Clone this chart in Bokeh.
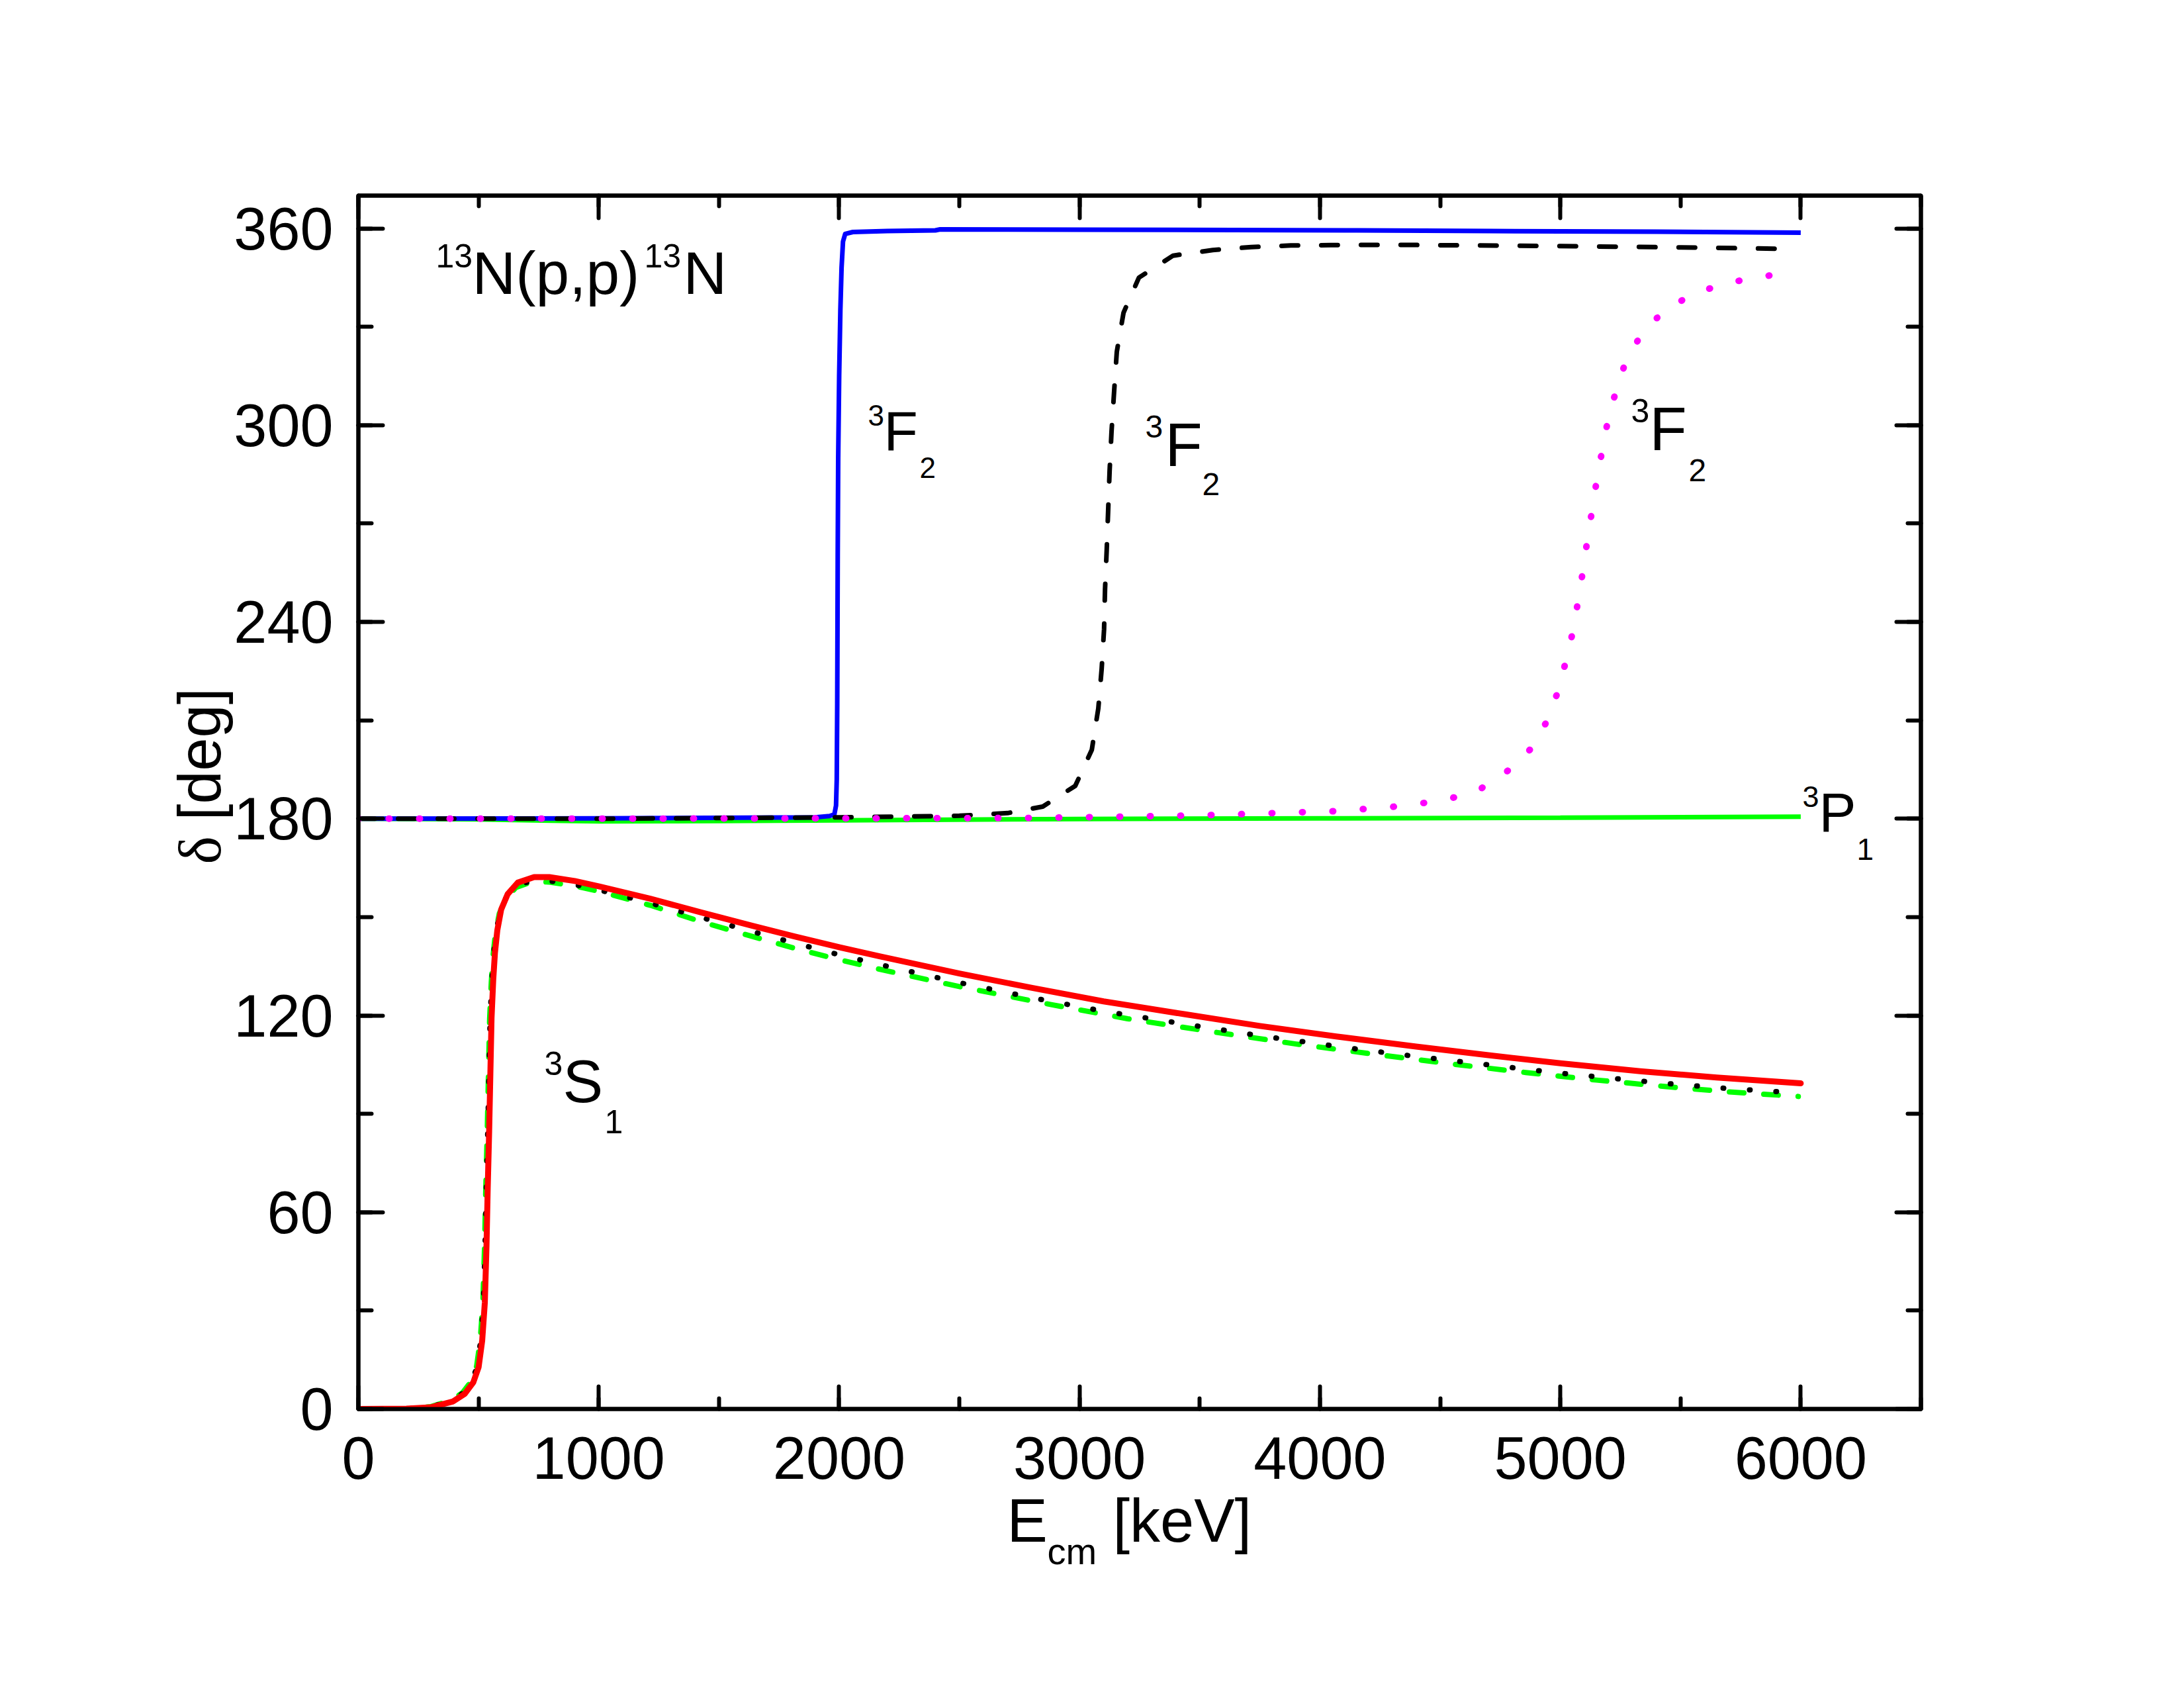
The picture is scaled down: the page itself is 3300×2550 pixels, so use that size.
import math
from bokeh.plotting import figure
from bokeh.models import (Range1d, LinearAxis, SingleIntervalTicker, Label,
                          CustomJSTickFormatter)
from bokeh.embed import file_html
from bokeh.resources import INLINE

# ---------------- data ----------------
# 3F2 solid blue
E_F2_blue = [0, 1000, 1900, 1960, 1980, 1987, 1990, 1992, 1994, 1996, 2000, 2005, 2010,
             2016, 2025, 2057, 2200, 2400, 2420, 3000, 4155, 4705, 5400, 6000]
D_F2_blue = [180, 180.1, 180.4, 180.8, 181.3, 184, 192, 215, 260, 290, 315, 335, 348,
             356, 358.3, 358.9, 359.2, 359.4, 359.7, 359.6, 359.4, 359.2, 359.0, 358.7]

# 3F2 dashed black
E_F2_dash = [0, 1000, 2000, 2500, 2700, 2847, 2982, 3051, 3078, 3092, 3102, 3106, 3113,
             3119, 3125, 3133, 3144, 3155, 3183, 3247, 3389, 3554, 3714, 3879, 4045,
             4300, 5000, 5500, 5910]
D_F2_dash = [180, 180, 180.4, 180.9, 181.7, 183.7, 190, 201, 213.6, 225.7, 237.8, 250, 262,
             274, 286, 298, 310.5, 322.4, 334.3, 345, 351.7, 353.4, 354.3, 354.8, 354.9,
             355.0, 354.6, 354.2, 353.8]

# 3F2 dotted magenta
E_F2_dot = [0, 1000, 2000, 2791, 3500, 4065, 4300, 4500, 4650, 4783, 4873, 4945, 4991,
            5023, 5052, 5073, 5094, 5112, 5132, 5151, 5174, 5198, 5231, 5270, 5331, 5421,
            5540, 5666, 5793, 5950]
D_F2_dot = [180, 180, 180.1, 180.2, 181, 182.3, 183.6, 185.4, 188.2, 194.7, 201, 209.8, 219,
            228, 237, 246, 255.6, 264.8, 274, 283, 292.3, 301.5, 310.3, 319, 327, 334.2,
            339.6, 342.8, 344.8, 346.5]

# 3P1 solid green
E_P1 = [0, 500, 800, 1000, 1500, 2000, 3000, 4000, 5000, 6000]
D_P1 = [180, 179.8, 179.4, 179.2, 179.3, 179.5, 179.9, 180.1, 180.3, 180.6]

# 3S1 solid red
E_S1_red = [0, 200, 300, 394, 442, 478, 500, 515, 526, 533, 538, 544, 549, 554, 561, 568,
            578, 594, 621, 663, 731, 794, 900, 1005, 1214, 1426, 1637, 1814, 2000, 2171,
            2500, 2803, 3100, 3435, 3750, 4068, 4400, 4700, 5000, 5332, 5650, 6000]
D_S1_red = [0, 0.1, 0.5, 2.3, 4.6, 8.1, 12.7, 20.8, 32.4, 49.8, 67.2, 84.6, 102, 119.3,
            130.9, 139, 146, 152.3, 157, 160.5, 162.2, 162.2, 161, 159.3, 155.6, 151.4,
            147.4, 144.1, 140.8, 138.0, 132.8, 128.4, 124.3, 120.4, 116.8, 113.6, 110.5,
            107.9, 105.4, 103.0, 101.1, 99.3]

# 3S1 dotted black
E_S1_dot = [0, 200, 300, 388, 436, 472, 494, 509, 520, 527, 532, 538, 543, 548, 555, 562,
            572, 588, 615, 657, 725, 790, 900, 1005, 1214, 1426, 1637, 1814, 2000, 2171,
            2500, 2845, 3100, 3515, 3750, 4160, 4400, 4834, 5000, 5419, 5700, 6000]
D_S1_dot = [0, 0.1, 0.6, 2.5, 4.9, 8.4, 13.0, 21.0, 32.5, 50.0, 67.3, 84.6, 102.0, 119.0,
            130.4, 138.3, 145.2, 151.3, 156.0, 159.5, 161.2, 161.1, 159.9, 158.2, 154.3,
            149.9, 145.6, 142.1, 138.5, 135.5, 130.0, 124.8, 121.3, 116.5, 113.8, 109.7,
            107.5, 103.8, 102.4, 99.4, 97.7, 96.3]

# 3S1 dashed green
E_S1_gd = [0, 200, 300, 386, 434, 470, 492, 507, 518, 525, 530, 536, 541, 546, 553, 560,
           570, 586, 613, 655, 723, 790, 900, 1005, 1214, 1426, 1570, 1814, 2000, 2186,
           2500, 2882, 3200, 3545, 3900, 4256, 4550, 4856, 5150, 5457, 5700, 5990]
D_S1_gd = [0, 0.1, 0.7, 2.6, 5.0, 8.5, 13.1, 21.1, 32.6, 50.0, 67.3, 84.6, 102.0, 119.0,
           130.3, 138.1, 145.0, 151.0, 155.6, 159.0, 160.8, 160.7, 159.5, 157.8, 153.6,
           148.6, 145.5, 140.5, 137.0, 133.8, 128.8, 123.3, 119.0, 115.1, 111.3, 107.9,
           105.2, 102.6, 100.3, 98.2, 96.7, 95.3]

X_TICK_INTERVAL = 1000
Y_TICK_INTERVAL = 60

# ---------------- geometry ----------------
X0, X1 = 0, 6500
Y0, Y1 = 0, 370
FRAME_L, FRAME_T = 541, 295          # picture pixels
FRAME_W, FRAME_H = 2361, 1833
SX = FRAME_W / (X1 - X0)
SY = FRAME_H / (Y1 - Y0)
FRAME_B = FRAME_T + FRAME_H

FONT = "Liberation Sans"

p = figure(frame_width=FRAME_W, frame_height=FRAME_H,
           x_range=Range1d(X0, X1), y_range=Range1d(Y0, Y1),
           x_axis_type=None, y_axis_type=None,
           output_backend="svg", toolbar_location=None,
           min_border_left=FRAME_L, min_border_top=FRAME_T,
           min_border_right=3300 - FRAME_L - FRAME_W,
           min_border_bottom=2550 - FRAME_T - FRAME_H)
p.xgrid.visible = False
p.ygrid.visible = False
p.background_fill_color = "white"
p.border_fill_color = "white"
p.outline_line_color = "black"
p.outline_line_width = 6


def style_axis(ax, maj, mnr, labels=True):
    ax.axis_line_width = 6
    ax.axis_line_color = "black"
    ax.major_tick_in = maj
    ax.major_tick_out = 0
    ax.minor_tick_in = mnr
    ax.minor_tick_out = 0
    ax.major_tick_line_width = 6
    ax.minor_tick_line_width = 6
    ax.major_tick_line_cap = "round"
    ax.minor_tick_line_cap = "round"
    ax.major_label_text_font = FONT
    ax.major_label_text_font_size = "90px"
    ax.major_label_text_color = "black"
    if not labels:
        ax.formatter = CustomJSTickFormatter(code="return ''")
        ax.major_label_text_font_size = "1px"
        ax.major_label_standoff = 0


xb = LinearAxis(ticker=SingleIntervalTicker(interval=X_TICK_INTERVAL, num_minor_ticks=2))
style_axis(xb, 34, 16)
xb.major_label_standoff = 42
p.add_layout(xb, "below")

xt = LinearAxis(ticker=SingleIntervalTicker(interval=X_TICK_INTERVAL, num_minor_ticks=2))
style_axis(xt, 34, 16, labels=False)
p.add_layout(xt, "above")

yl = LinearAxis(ticker=SingleIntervalTicker(interval=Y_TICK_INTERVAL, num_minor_ticks=2))
style_axis(yl, 37, 20)
yl.major_label_standoff = 38
p.add_layout(yl, "left")

yr = LinearAxis(ticker=SingleIntervalTicker(interval=Y_TICK_INTERVAL, num_minor_ticks=2))
style_axis(yr, 37, 20, labels=False)
p.add_layout(yr, "right")

# ---------------- curves ----------------
p.line(E_P1, D_P1, line_color="#00FF00", line_width=7)
p.line(E_F2_blue, D_F2_blue, line_color="#0000FF", line_width=7, line_join="round")
p.line(E_F2_dash, D_F2_dash, line_color="black", line_width=7, line_dash="25 35",
       line_cap="round", line_join="round")
p.line(E_F2_dot, D_F2_dot, line_color="#FF00FF", line_width=10, line_dash="1 45",
       line_cap="round", line_join="round")

p.line(E_S1_gd, D_S1_gd, line_color="#00FF00", line_width=8, line_dash="22 30",
       line_cap="round", line_join="round")
p.line(E_S1_dot, D_S1_dot, line_color="black", line_width=8, line_dash="1 39",
       line_cap="round", line_join="round")
p.line(E_S1_red, D_S1_red, line_color="#FF0000", line_width=9, line_join="round",
       line_cap="round")


# ---------------- texts ----------------
def lab(text, X, Y, size, font=FONT, angle=0.0, panel=None, desc=0.212):
    """X: left edge of text origin, Y: baseline (picture pixels)."""
    if angle == 0.0:
        ax_, ay_ = X, Y + desc * size
    else:
        ax_, ay_ = X + desc * size, Y
    lbl = Label(x=X0 + (ax_ - FRAME_L) / SX, y=Y0 + (FRAME_B - ay_) / SY,
                text=text, text_font=font, text_font_size=f"{size}px",
                text_color="black", text_align="left",
                text_baseline="bottom", angle=angle)
    if panel is None:
        p.add_layout(lbl)
    else:
        p.add_layout(lbl, panel)


# reaction label
lab("13", 658, 393, 50)
lab("N(p,p)", 713, 443, 91)
lab("13", 973, 393, 50)
lab("N", 1032, 443, 91)

# 3F2 labels
lab("3", 1311, 633, 44)
lab("F", 1335, 680, 84)
lab("2", 1389, 712, 44)

lab("3", 1730, 650, 48)
lab("F", 1760, 703, 92)
lab("2", 1816, 737, 48)

lab("3", 2464, 627, 50)
lab("F", 2492, 679, 92)
lab("2", 2551, 716, 48)

# 3P1
lab("3", 2723, 1209, 45)
lab("P", 2748, 1256, 84)
lab("1", 2805, 1289, 46)

# 3S1
lab("3", 822, 1613, 50)
lab("S", 850, 1664, 91)
lab("1", 913, 1701, 50)

# axis titles (outside the frame: placed in side panels so they are not clipped)
lab("E", 1521, 2328, 92, panel="below")
lab("cm", 1582, 2363, 56, panel="below")
lab("[keV]", 1681, 2328, 92, panel="below")

lab("\u03b4", 332, 1305, 90, font="Liberation Serif", angle=math.pi / 2, panel="left",
    desc=0.216)
lab("[deg]", 332, 1239, 90, angle=math.pi / 2, panel="left")

open("out.html", "w").write(file_html(p, INLINE))
